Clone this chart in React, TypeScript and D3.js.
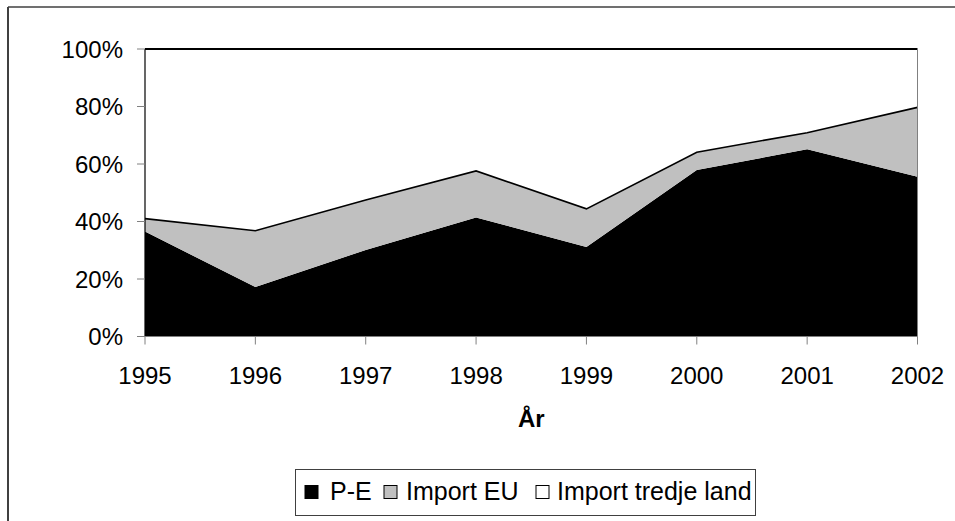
import React from "react";
import * as d3 from "d3";

const years = ["1995", "1996", "1997", "1998", "1999", "2000", "2001", "2002"];
const peShare = [36.5, 17.2, 30.1, 41.4, 31.1, 57.9, 65.1, 55.6];
const euShare = [4.5, 19.6, 17.4, 16.2, 13.3, 6.2, 5.8, 24.1];
const tredjeShare = [59.0, 63.2, 52.5, 42.4, 55.6, 35.9, 29.1, 20.3];
const seriesNames = ["P-E", "Import EU", "Import tredje land"];
const seriesColors = ["#000000", "#c0c0c0", "#ffffff"];
const yTicks = [0, 20, 40, 60, 80, 100];

const W = 955;
const H = 521;
const plot = { left: 145, right: 917.5, top: 49, bottom: 336.5 };
const font = "'Liberation Sans', Arial, sans-serif";

export default function App() {
  const rows = years.map((yr, i) => ({
    year: yr,
    "P-E": peShare[i],
    "Import EU": euShare[i],
    "Import tredje land": tredjeShare[i],
  }));

  const layers = d3.stack<any>().keys(seriesNames)(rows);

  const x = d3.scalePoint().domain(years).range([plot.left, plot.right]);
  const y = d3.scaleLinear().domain([0, 100]).range([plot.bottom, plot.top]);

  const area = d3
    .area<any>()
    .x((d) => x(d.data.year) as number)
    .y0((d) => y(d[0]))
    .y1((d) => y(d[1]));

  const topLine = d3
    .line<any>()
    .x((d) => x(d.data.year) as number)
    .y((d) => y(d[1]));

  // legend item positions (layout only)
  const legendItems = [
    { sq: 305, tx: 330 },
    { sq: 384, tx: 406 },
    { sq: 536, tx: 557 },
  ];

  return (
    <svg
      width={W}
      height={H}
      style={{ position: "absolute", left: 0, top: 0, background: "#fff" }}
    >
      {/* outer chart border (clipped) */}
      <line x1={8} y1={7} x2={W} y2={7} stroke="#404040" strokeWidth={1.5} />
      <line x1={8} y1={7} x2={8} y2={H} stroke="#404040" strokeWidth={2} />

      {layers.map((layer, i) => (
        <path key={layer.key} d={area(layer) || ""} fill={seriesColors[i]} stroke="none" />
      ))}
      {/* outlines on top of EU and tredje land areas */}
      {layers.slice(1).map((layer, i) => (
        <path
          key={"l" + layer.key}
          d={topLine(layer) || ""}
          fill="none"
          stroke="#000"
          strokeWidth={i === 1 ? 2.2 : 1.6}
        />
      ))}
      <line x1={plot.right} y1={plot.top} x2={plot.right} y2={plot.bottom} stroke="#808080" strokeWidth={1} />

      {/* y axis */}
      <line x1={plot.left} y1={plot.top} x2={plot.left} y2={plot.bottom} stroke="#000" strokeWidth={1.2} />
      {yTicks.map((t) => (
        <g key={t}>
          <line x1={plot.left - 8} x2={plot.left} y1={y(t)} y2={y(t)} stroke="#808080" />
          <text
            x={plot.left - 22}
            y={y(t) + 8.5}
            textAnchor="end"
            fontFamily={font}
            fontSize={24}
            fill="#000"
          >
            {t}%
          </text>
        </g>
      ))}

      {/* x axis */}
      <line x1={plot.left} x2={plot.right} y1={plot.bottom} y2={plot.bottom} stroke="#808080" />
      {years.map((yr) => (
        <g key={yr}>
          <line
            x1={x(yr) as number}
            x2={x(yr) as number}
            y1={plot.bottom}
            y2={plot.bottom + 8}
            stroke="#808080"
          />
          <text
            x={x(yr) as number}
            y={384}
            textAnchor="middle"
            fontFamily={font}
            fontSize={24}
            fill="#000"
          >
            {yr}
          </text>
        </g>
      ))}
      <text
        x={(plot.left + plot.right) / 2}
        y={427}
        textAnchor="middle"
        fontFamily={font}
        fontSize={24}
        fontWeight="bold"
        fill="#000"
      >
        År
      </text>

      {/* legend */}
      <rect x={295.5} y={469.5} width={460} height={46} fill="#fff" stroke="#404040" strokeWidth={1} />
      {seriesNames.map((name, i) => (
        <g key={name}>
          <rect
            x={legendItems[i].sq}
            y={485.5}
            width={13}
            height={13}
            fill={seriesColors[i]}
            stroke="#000"
            strokeWidth={1}
          />
          <text x={legendItems[i].tx} y={500} fontFamily={font} fontSize={25} fill="#000">
            {name}
          </text>
        </g>
      ))}
    </svg>
  );
}
